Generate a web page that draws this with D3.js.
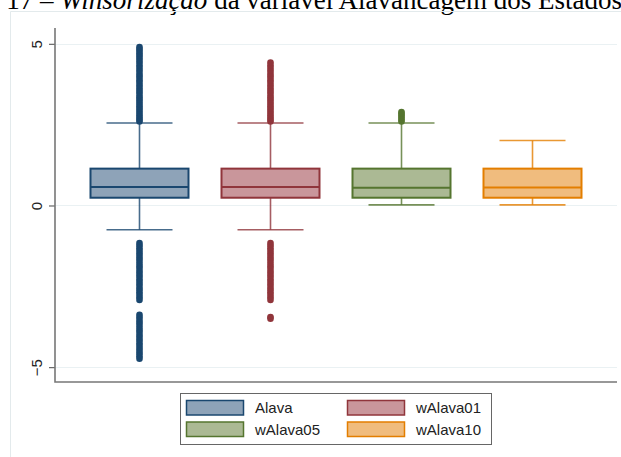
<!DOCTYPE html>
<html>
<head>
<meta charset="utf-8">
<script src="https://cdn.jsdelivr.net/npm/d3@7"></script>
<style>
  body { margin: 0; background: #fff; }
  svg { display: block; }
</style>
</head>
<body>
<div id="chart"></div>
<script>
// Size of the picture
let width = 621;
let height = 457;

// Series names and box summaries
let series = ["Alava", "wAlava01", "wAlava05", "wAlava10"];
let q1 = [0.24, 0.24, 0.24, 0.24];
let median = [0.57, 0.57, 0.55, 0.56];
let q3 = [1.14, 1.14, 1.14, 1.14];
let whiskerLow = [-0.75, -0.75, 0.02, 0.02];
let whiskerHigh = [2.55, 2.55, 2.55, 2.01];

// Outside values (dots)
let outAlava = [2.6, 2.66, 2.72, 2.79, 2.86, 2.93, 3.0, 3.07, 3.14, 3.21, 3.28, 3.35, 3.42, 3.5, 3.57, 3.64, 3.72,
  3.8, 3.87, 3.95, 4.02, 4.1, 4.18, 4.26, 4.34, 4.42, 4.5, 4.57, 4.64, 4.71, 4.78, 4.84, 4.9,
  -1.16, -1.24, -1.32, -1.4, -1.48, -1.56, -1.64, -1.72, -1.8, -1.88, -1.96, -2.04, -2.12, -2.2,
  -2.28, -2.36, -2.44, -2.52, -2.6, -2.68, -2.76, -2.84, -2.92,
  -3.38, -3.46, -3.54, -3.62, -3.7, -3.78, -3.86, -3.94, -4.02, -4.1, -4.18, -4.26, -4.34, -4.42,
  -4.5, -4.58, -4.66, -4.74];
let outW01 = [2.6, 2.66, 2.72, 2.79, 2.86, 2.93, 3.0, 3.07, 3.14, 3.21, 3.28, 3.35, 3.42, 3.5, 3.57, 3.64, 3.72,
  3.8, 3.87, 3.95, 4.02, 4.1, 4.18, 4.26, 4.34, 4.42,
  -1.16, -1.24, -1.32, -1.4, -1.48, -1.56, -1.64, -1.72, -1.8, -1.88, -1.96, -2.04, -2.12, -2.2,
  -2.28, -2.36, -2.44, -2.52, -2.6, -2.68, -2.76, -2.84, -2.92, -3.45, -3.5];
let outW05 = [2.6, 2.66, 2.72, 2.78, 2.84, 2.89];
let outW10 = [];
let outliers = [outAlava, outW01, outW05, outW10];

// Stata s2color like colours
let lineColors = ["#1a476f", "#90353b", "#55752f", "#e37e00"];
let fillColors = ["#8ea3b8", "#c9969b", "#abb994", "#f0bc7e"];

let yTicks = [-5, 0, 5];

let svg = d3.select('#chart')
.append('svg')
.attr('width', width)
.attr('height', height);

// Caption line that is cut off at the top of the picture
let title = svg.append('text')
.attr('x', 622)
.attr('y', 9)
.attr('text-anchor', 'end')
.style('font-family', '"Liberation Serif", "Times New Roman", serif')
.style('font-size', '27px')
.attr('fill', '#000');
title.append('tspan').text('Tabela 17 – ');
title.append('tspan').style('font-style', 'italic').text('Winsorização');
title.append('tspan').text(' da variável Alavancagem dos Estados');

// Light frame of the graph region
svg.append('path')
.attr('d', 'M10.5,' + height + 'V11.5H' + width)
.attr('fill', 'none')
.attr('stroke', '#e3eaec')
.attr('stroke-width', 1);

// Plot area
let plotLeft = 55, plotRight = 617, plotTop = 28, plotBottom = 382;

let y = d3.scaleLinear()
.domain([-5.46, 5.49])
.range([plotBottom, plotTop]);

let x = d3.scalePoint()
.domain(series)
.range([plotLeft, plotRight])
.padding(0.645);

// Grid lines
svg.append('g')
.selectAll('line')
.data(yTicks)
.enter()
.append('line')
.attr('x1', plotLeft)
.attr('x2', plotRight)
.attr('y1', function(d){ return Math.round(y(d)) + 0.5; })
.attr('y2', function(d){ return Math.round(y(d)) + 0.5; })
.attr('stroke', '#eaf1f3')
.attr('stroke-width', 1.2);

// Y axis
let yAxis = svg.append('g')
.attr('transform', 'translate(' + plotLeft + ',0)')
.call(d3.axisLeft(y).tickValues(yTicks).tickSize(6).tickPadding(4).tickFormat(d3.format('d')));
yAxis.select('.domain').remove();
yAxis.selectAll('.tick line').attr('stroke', '#666').attr('stroke-width', 1.2);
yAxis.selectAll('.tick text')
.attr('transform', 'rotate(-90)')
.attr('x', 0)
.attr('y', -13)
.attr('dy', 0)
.attr('text-anchor', 'middle')
.attr('fill', '#222')
.style('font-family', '"Liberation Sans", Arial, sans-serif')
.style('font-size', '15px');

// Axis lines
svg.append('path')
.attr('d', 'M' + plotLeft + ',' + plotTop + 'V' + plotBottom + 'H' + plotRight)
.attr('fill', 'none')
.attr('stroke', '#777')
.attr('stroke-width', 1.6);

let boxWidth = 98;
let capWidth = 66;

let boxes = svg.append('g')
.selectAll('g')
.data(series)
.enter()
.append('g');

// Whiskers
boxes.append('line')
.attr('x1', function(d){ return x(d); })
.attr('x2', function(d){ return x(d); })
.attr('y1', function(d, i){ return y(q3[i]); })
.attr('y2', function(d, i){ return y(whiskerHigh[i]); })
.attr('stroke', function(d, i){ return lineColors[i]; })
.attr('stroke-opacity', 0.8)
.attr('stroke-width', 1.6);
boxes.append('line')
.attr('x1', function(d){ return x(d); })
.attr('x2', function(d){ return x(d); })
.attr('y1', function(d, i){ return y(q1[i]); })
.attr('y2', function(d, i){ return y(whiskerLow[i]); })
.attr('stroke', function(d, i){ return lineColors[i]; })
.attr('stroke-opacity', 0.8)
.attr('stroke-width', 1.6);

// Caps
[whiskerHigh, whiskerLow].forEach(function(w){
    boxes.append('line')
    .attr('x1', function(d){ return x(d) - capWidth / 2; })
    .attr('x2', function(d){ return x(d) + capWidth / 2; })
    .attr('y1', function(d, i){ return y(w[i]); })
    .attr('y2', function(d, i){ return y(w[i]); })
    .attr('stroke', function(d, i){ return lineColors[i]; })
    .attr('stroke-opacity', 0.8)
    .attr('stroke-width', 1.6);
});

// Boxes
boxes.append('rect')
.attr('x', function(d){ return x(d) - boxWidth / 2; })
.attr('width', boxWidth)
.attr('y', function(d, i){ return y(q3[i]); })
.attr('height', function(d, i){ return y(q1[i]) - y(q3[i]); })
.attr('fill', function(d, i){ return fillColors[i]; })
.attr('stroke', function(d, i){ return lineColors[i]; })
.attr('stroke-width', 2);

// Median
boxes.append('line')
.attr('x1', function(d){ return x(d) - boxWidth / 2; })
.attr('x2', function(d){ return x(d) + boxWidth / 2; })
.attr('y1', function(d, i){ return y(median[i]); })
.attr('y2', function(d, i){ return y(median[i]); })
.attr('stroke', function(d, i){ return lineColors[i]; })
.attr('stroke-width', 2);

// Outside values
boxes.each(function(d, i){
    d3.select(this).selectAll('circle')
    .data(outliers[i])
    .enter()
    .append('circle')
    .attr('cx', x(d))
    .attr('cy', function(v){ return y(v); })
    .attr('r', 3.3)
    .attr('fill', lineColors[i]);
});

// Legend
let legend = svg.append('g');
legend.append('rect')
.attr('x', 180.5)
.attr('y', 393.5)
.attr('width', 311)
.attr('height', 51)
.attr('fill', '#fff')
.attr('stroke', '#666')
.attr('stroke-width', 1);

let legendCol = [186, 347];
let legendRow = [400, 421.5];

let items = legend.selectAll('.item')
.data(series)
.enter()
.append('g')
.attr('class', 'item')
.attr('transform', function(d, i){
    return 'translate(' + legendCol[i % 2] + ',' + legendRow[Math.floor(i / 2)] + ')';
});

items.append('rect')
.attr('x', 0.5)
.attr('y', 0.5)
.attr('width', 57)
.attr('height', 14.5)
.attr('fill', function(d, i){ return fillColors[i]; })
.attr('stroke', function(d, i){ return lineColors[i]; })
.attr('stroke-width', 1.5);

items.append('text')
.attr('x', 69)
.attr('y', 13)
.text(function(d){ return d; })
.attr('fill', '#222')
.style('font-family', '"Liberation Sans", Arial, sans-serif')
.style('font-size', '15px');
</script>
</body>
</html>
